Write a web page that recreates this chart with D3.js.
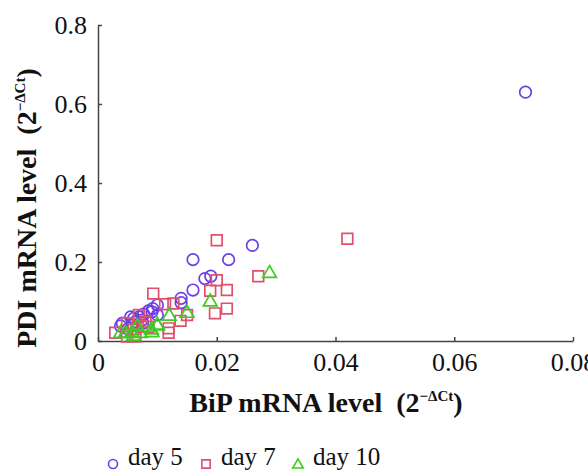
<!DOCTYPE html>
<html><head><meta charset="utf-8">
<script src="https://cdn.jsdelivr.net/npm/d3@7"></script>
<style>body{margin:0;background:#fff}svg{display:block}</style>
</head><body><svg id="c" width="588" height="476"></svg>
<script>
const xTicks = [0, 0.02, 0.04, 0.06, 0.08];
const yTicks = [0, 0.2, 0.4, 0.6, 0.8];
const xTickLabels = ["0", "0.02", "0.04", "0.06", "0.08"];
const yTickLabels = ["0", "0.2", "0.4", "0.6", "0.8"];
const seriesNames = ["day 5", "day 7", "day 10"];
const day5 = [[0.072,0.63],[0.026,0.242],[0.022,0.206],[0.016,0.206],[0.019,0.164],[0.018,0.158],[0.016,0.129],[0.014,0.108],[0.014,0.097],[0.010,0.091],[0.0091,0.074],[0.010,0.066],[0.0092,0.082],[0.0085,0.076],[0.0077,0.068],[0.0069,0.061],[0.006,0.057],[0.0055,0.061],[0.0063,0.049],[0.0041,0.045],[0.0038,0.038],[0.0074,0.053],[0.0057,0.040],[0.0075,0.045],[0.005,0.03]];
const day7 = [[0.042,0.259],[0.020,0.255],[0.027,0.164],[0.020,0.154],[0.0189,0.127],[0.0217,0.129],[0.0197,0.07],[0.0217,0.082],[0.0093,0.120],[0.0113,0.093],[0.0127,0.095],[0.015,0.066],[0.0139,0.051],[0.0119,0.032],[0.0119,0.021],[0.0069,0.066],[0.0029,0.021],[0.0049,0.045],[0.008,0.049],[0.0074,0.036],[0.0063,0.011],[0.0049,0.011],[0.0085,0.036],[0.006,0.03]];
const day10 = [[0.0289,0.171],[0.0189,0.099],[0.012,0.063],[0.015,0.07],[0.010,0.038],[0.009,0.028],[0.010,0.04],[0.0091,0.021],[0.0057,0.021],[0.0046,0.019],[0.0066,0.036],[0.0071,0.019],[0.0038,0.019],[0.006,0.012]];

const colors = ["#6a3fe6", "#e0506c", "#3ccc22"];
const shapes = [d3.symbolCircle, d3.symbolSquare, d3.symbolTriangle];
const sizes = [105, 115, 80];
const FONT = '"Liberation Serif"';

const svg = d3.select("#c");
const L = 98, R = 573, T = 25, B = 341;
const x = d3.scaleLinear().domain([0, 0.08]).range([L, R]);
const y = d3.scaleLinear().domain([0, 0.8]).range([B, T]);

const ax = svg.append("g").attr("transform", `translate(0,${B})`)
  .call(d3.axisBottom(x).tickValues(xTicks).tickSizeInner(-4).tickSizeOuter(0).tickPadding(8).tickFormat((d,i)=>xTickLabels[i]));
const ay = svg.append("g").attr("transform", `translate(${L},0)`)
  .call(d3.axisLeft(y).tickValues(yTicks).tickSizeInner(-4).tickSizeOuter(0).tickPadding(11).tickFormat((d,i)=>yTickLabels[i]));
[ax, ay].forEach(a => {
  a.attr("font-family", null).attr("font-size", null);
  a.select(".domain").attr("stroke", "#444").attr("stroke-width", 1.5);
  a.selectAll(".tick line").attr("stroke", "#444").attr("stroke-width", 1.5);
  a.selectAll(".tick text").attr("fill", "#111").style("font-size", "26px").style("font-family", FONT);
});
ax.selectAll(".tick text").attr("dy", "0.85em");

const all = [day5, day7, day10];
const g = svg.append("g");
all.forEach((data, i) => {
  g.selectAll(null).data(data).enter().append("path")
    .attr("d", d3.symbol().type(shapes[i]).size(sizes[i]))
    .attr("transform", d => `translate(${x(d[0])},${y(d[1])})`)
    .attr("fill", "none").attr("stroke", colors[i]).attr("stroke-width", 1.7);
});

// axis titles
function title(sel, main) {
  sel.attr("text-anchor", "middle").attr("font-weight", "bold")
    .style("font-size", "28px").style("font-family", FONT).style("white-space", "pre").attr("fill", "#111");
  sel.append("tspan").text(main + "  (2");
  sel.append("tspan").text("−ΔCt").attr("dy", -11).style("font-size", "15px");
  sel.append("tspan").text(")").attr("dy", 11);
}
title(svg.append("text").attr("x", 326).attr("y", 412), "BiP mRNA level");
title(svg.append("text").attr("transform", `translate(36,208) rotate(-90)`), "PDI mRNA level");

// legend
const legX = [113, 206, 298];
const lg = svg.append("g");
seriesNames.forEach((n, i) => {
  lg.append("path").attr("d", d3.symbol().type(shapes[i]).size(sizes[i] * 0.6))
    .attr("transform", `translate(${legX[i]},${i===2?465:464})`)
    .attr("fill", "none").attr("stroke", colors[i]).attr("stroke-width", 1.6);
  lg.append("text").attr("x", legX[i] + 15).attr("y", 465).text(n)
    .style("font-size", "25px").style("font-family", FONT).attr("fill", "#111");
});
</script></body></html>
